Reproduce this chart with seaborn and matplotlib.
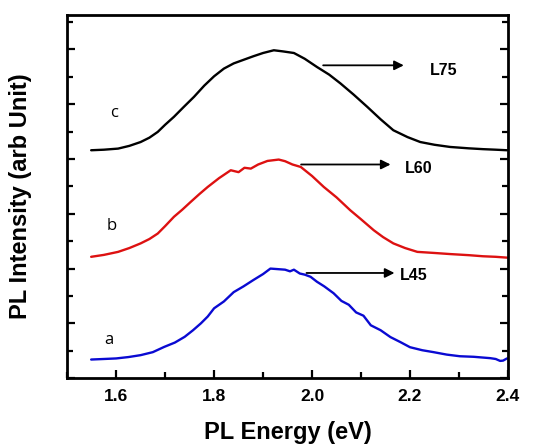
import numpy as np
import pandas as pd
import seaborn as sns
import matplotlib.pyplot as plt
from matplotlib.ticker import MultipleLocator

# PL spectra (energy in eV, intensity offset in arb. units)
energy_a = [1.549, 1.575, 1.600, 1.625, 1.650, 1.675, 1.698, 1.720, 1.740, 1.757, 1.773, 1.787,
            1.800, 1.820, 1.840, 1.860, 1.880, 1.900, 1.915, 1.930, 1.945, 1.955, 1.963, 1.975,
            1.985, 1.997, 2.010, 2.025, 2.044, 2.060, 2.075, 2.090, 2.105, 2.120, 2.140, 2.160,
            2.180, 2.200, 2.225, 2.248, 2.275, 2.302, 2.330, 2.364, 2.375, 2.384, 2.390, 2.398]
int_a = [0.68, 0.70, 0.72, 0.77, 0.84, 0.95, 1.14, 1.30, 1.51, 1.75, 2.00, 2.25,
         2.55, 2.80, 3.14, 3.35, 3.58, 3.80, 4.00, 3.98, 3.96, 3.90, 3.96, 3.82,
         3.78, 3.70, 3.52, 3.35, 3.10, 2.82, 2.68, 2.40, 2.28, 1.93, 1.75, 1.50,
         1.32, 1.13, 1.02, 0.95, 0.86, 0.80, 0.78, 0.73, 0.70, 0.63, 0.64, 0.72]

energy_b = [1.549, 1.575, 1.604, 1.627, 1.650, 1.668, 1.685, 1.700, 1.718, 1.735, 1.752, 1.770,
            1.787, 1.810, 1.834, 1.850, 1.862, 1.875, 1.890, 1.909, 1.932, 1.945, 1.960, 1.977,
            2.000, 2.024, 2.050, 2.078, 2.100, 2.126, 2.145, 2.166, 2.190, 2.215, 2.250, 2.282,
            2.320, 2.349, 2.375, 2.398]
int_b = [4.43, 4.50, 4.61, 4.75, 4.92, 5.08, 5.28, 5.55, 5.89, 6.15, 6.43, 6.72,
         6.98, 7.30, 7.59, 7.52, 7.68, 7.65, 7.80, 7.93, 7.98, 7.92, 7.80, 7.71,
         7.38, 6.98, 6.60, 6.13, 5.80, 5.40, 5.15, 4.92, 4.75, 4.61, 4.57, 4.53,
         4.49, 4.45, 4.43, 4.40]

energy_c = [1.549, 1.575, 1.604, 1.627, 1.650, 1.668, 1.685, 1.700, 1.718, 1.738, 1.759, 1.780,
            1.800, 1.820, 1.840, 1.860, 1.880, 1.900, 1.922, 1.940, 1.963, 1.985, 2.010, 2.035,
            2.058, 2.085, 2.113, 2.140, 2.166, 2.195, 2.221, 2.250, 2.282, 2.320, 2.349, 2.375,
            2.398]
int_c = [8.32, 8.34, 8.38, 8.48, 8.62, 8.78, 8.99, 9.25, 9.54, 9.90, 10.27, 10.68,
         11.02, 11.30, 11.49, 11.62, 11.75, 11.87, 11.97, 11.93, 11.87, 11.66, 11.36, 11.08,
         10.76, 10.35, 9.90, 9.45, 9.05, 8.80, 8.62, 8.52, 8.44, 8.39, 8.36, 8.34,
         8.32]

sample_labels = ["a", "b", "c"]
sample_names = ["L45", "L60", "L75"]
colors = ["#0a0ad2", "#dd1111", "#000000"]

df = pd.concat([
    pd.DataFrame({"energy": energy_a, "intensity": int_a, "sample": "a"}),
    pd.DataFrame({"energy": energy_b, "intensity": int_b, "sample": "b"}),
    pd.DataFrame({"energy": energy_c, "intensity": int_c, "sample": "c"}),
])

sns.set_style("ticks", {"axes.edgecolor": "black", "text.color": "black",
                        "axes.labelcolor": "black", "xtick.color": "black",
                        "ytick.color": "black"})
plt.rcParams['font.family'] = ['Liberation Sans', 'DejaVu Sans']

fig = plt.figure(figsize=(5.33, 4.47), dpi=100)
ax = fig.add_axes([0.126, 0.154, 0.827, 0.812])

sns.lineplot(data=df, x="energy", y="intensity", hue="sample", palette=colors,
             hue_order=sample_labels, linewidth=1.7, legend=False, ax=ax, sort=False)

ax.set_xlim(1.5, 2.4)
ax.set_ylim(0, 13.25)
ax.xaxis.set_major_locator(MultipleLocator(0.2))
ax.xaxis.set_minor_locator(MultipleLocator(0.1))
ax.yaxis.set_major_locator(MultipleLocator(2))
ax.yaxis.set_minor_locator(MultipleLocator(1))
ax.set_yticklabels([])
ax.tick_params(which="both", direction="in", top=False, right=True, width=1.6)
ax.tick_params(which="major", length=6)
ax.tick_params(which="minor", length=4)
ax.tick_params(axis="x", labelsize=12.5, pad=8)
for lab in ax.get_xticklabels():
    lab.set_fontweight("bold")
for s in ax.spines.values():
    s.set_linewidth(2)

ax.set_xlabel("PL Energy (eV)", fontsize=17, fontweight="bold", labelpad=12)
ax.set_ylabel("PL Intensity (arb Unit)", fontsize=17, fontweight="bold", labelpad=22)

# curve letters
letter_pos = [(1.586, 1.39), (1.590, 5.55), (1.596, 9.67)]
for lab, (x, y) in zip(sample_labels, letter_pos):
    ax.text(x, y, lab, fontsize=12, family=["Open Sans", "DejaVu Sans"], ha="center", va="center")

# arrows with sample names
arrows = [((1.983, 3.84), (2.174, 3.84), (2.180, 3.76)),
          ((1.972, 7.80), (2.166, 7.80), (2.190, 7.66)),
          ((2.017, 11.42), (2.193, 11.42), (2.241, 11.24))]
for name, (start, end, txt) in zip(sample_names, arrows):
    ax.annotate("", xy=end, xytext=start,
                arrowprops=dict(arrowstyle="-|>", color="black", lw=1.3, mutation_scale=14))
    ax.text(txt[0], txt[1], name, fontsize=11.5, fontweight="bold", ha="left", va="center")

fig.savefig("out.png", dpi=100)
